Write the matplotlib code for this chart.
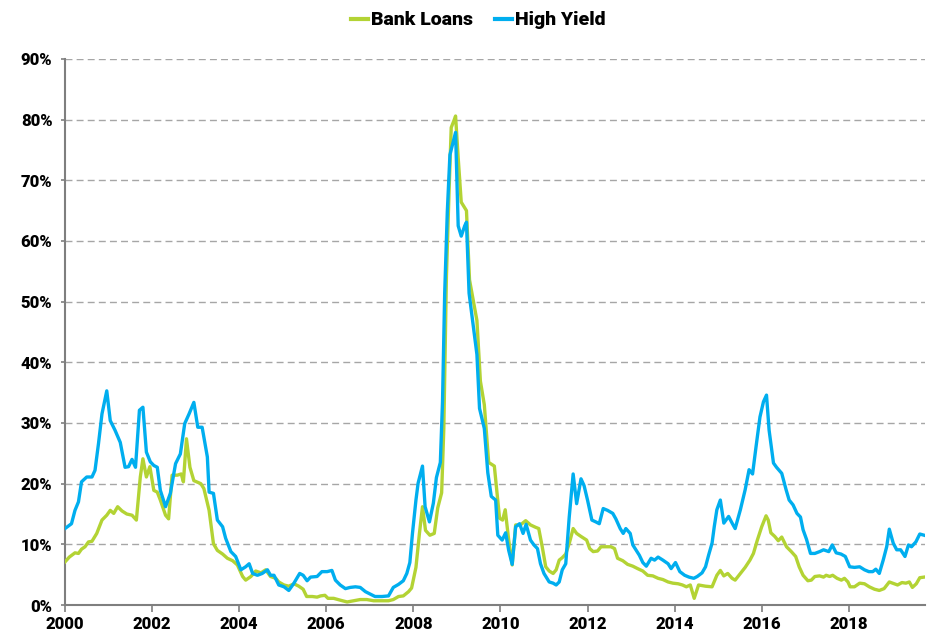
import matplotlib
matplotlib.use("Agg")
import matplotlib.pyplot as plt
from matplotlib import ticker

# Bank Loans (fractional years / percent)
bl_years = [2000.0, 2000.1, 2000.23, 2000.31, 2000.38, 2000.46, 2000.54, 2000.62, 2000.73, 2000.85,
            2000.96, 2001.04, 2001.12, 2001.21, 2001.31, 2001.42, 2001.54, 2001.64, 2001.73, 2001.79,
            2001.87, 2001.95, 2002.04, 2002.12, 2002.19, 2002.31, 2002.38, 2002.46, 2002.58, 2002.67,
            2002.72, 2002.79, 2002.87, 2002.96, 2003.12, 2003.19, 2003.31, 2003.41, 2003.5, 2003.62,
            2003.73, 2003.85, 2003.96, 2004.08, 2004.15, 2004.27, 2004.38, 2004.5, 2004.61, 2004.72,
            2004.84, 2004.91, 2005.03, 2005.14, 2005.26, 2005.37, 2005.47, 2005.55, 2005.68, 2005.79,
            2005.87, 2005.97, 2006.04, 2006.17, 2006.32, 2006.48, 2006.63, 2006.78, 2006.93, 2007.09,
            2007.24, 2007.43, 2007.54, 2007.66, 2007.77, 2007.89, 2007.96, 2008.06, 2008.14, 2008.21,
            2008.28, 2008.38, 2008.48, 2008.56, 2008.65, 2008.7, 2008.76, 2008.82, 2008.87, 2008.93,
            2008.97, 2009.03, 2009.1, 2009.22, 2009.29, 2009.46, 2009.54, 2009.63, 2009.73, 2009.86,
            2009.98, 2010.05, 2010.11, 2010.19, 2010.27, 2010.35, 2010.46, 2010.58, 2010.69, 2010.81,
            2010.88, 2010.96, 2011.04, 2011.12, 2011.21, 2011.28, 2011.35, 2011.42, 2011.5, 2011.59,
            2011.67, 2011.75, 2011.85, 2011.98, 2012.05, 2012.13, 2012.23, 2012.31, 2012.42, 2012.54,
            2012.62, 2012.69, 2012.81, 2012.92, 2013.04, 2013.15, 2013.27, 2013.38, 2013.5, 2013.62,
            2013.73, 2013.85, 2013.96, 2014.08, 2014.18, 2014.27, 2014.36, 2014.45, 2014.55, 2014.71,
            2014.86, 2014.97, 2015.05, 2015.13, 2015.22, 2015.32, 2015.39, 2015.51, 2015.62, 2015.73,
            2015.81, 2015.9, 2016.0, 2016.1, 2016.15, 2016.21, 2016.3, 2016.38, 2016.46, 2016.57,
            2016.68, 2016.78, 2016.86, 2016.95, 2017.06, 2017.14, 2017.22, 2017.33, 2017.42, 2017.48,
            2017.56, 2017.63, 2017.73, 2017.83, 2017.9, 2017.98, 2018.03, 2018.13, 2018.25, 2018.36,
            2018.47, 2018.59, 2018.7, 2018.81, 2018.93, 2019.04, 2019.12, 2019.22, 2019.31, 2019.39,
            2019.46, 2019.55, 2019.63, 2019.73]
bl_values = [7.1, 7.9, 8.6, 8.5, 9.2, 9.6, 10.4, 10.5, 11.8, 14.0,
             14.8, 15.6, 15.1, 16.2, 15.5, 15.0, 14.8, 14.0, 21.1, 24.1,
             21.1, 22.8, 18.9, 18.6, 17.3, 14.8, 14.2, 21.4, 21.4, 21.6,
             20.3, 27.4, 22.7, 20.5, 20.0, 19.2, 15.6, 10.1, 9.0, 8.4,
             7.7, 7.3, 6.6, 4.7, 4.1, 4.7, 5.6, 5.3, 5.8, 4.7,
             4.4, 3.8, 3.3, 3.1, 3.5, 3.1, 2.6, 1.4, 1.4, 1.3,
             1.5, 1.6, 1.1, 1.1, 0.8, 0.5, 0.7, 0.9, 0.9, 0.7,
             0.7, 0.7, 0.9, 1.4, 1.5, 2.2, 2.8, 6.2, 11.8, 16.2,
             12.3, 11.5, 11.8, 16.0, 18.5, 29.1, 54.2, 68.1, 78.7, 79.8,
             80.6, 73.7, 66.4, 65.0, 53.6, 46.9, 36.9, 33.0, 23.5, 22.9,
             14.3, 14.0, 15.7, 10.7, 6.6, 13.2, 13.2, 13.9, 13.2, 12.8,
             12.6, 9.6, 6.3, 5.6, 5.2, 5.8, 7.4, 7.8, 8.4, 10.4,
             12.6, 11.8, 11.3, 10.7, 9.3, 8.8, 8.9, 9.6, 9.6, 9.6,
             9.3, 7.7, 7.3, 6.7, 6.4, 6.0, 5.6, 4.9, 4.8, 4.4,
             4.2, 3.8, 3.6, 3.5, 3.3, 3.0, 3.3, 1.1, 3.3, 3.1,
             3.0, 4.9, 5.7, 4.8, 5.2, 4.4, 4.1, 5.2, 6.2, 7.4,
             8.5, 10.7, 12.9, 14.7, 14.0, 11.9, 11.3, 10.6, 11.2, 9.6,
             8.8, 8.0, 6.3, 4.9, 4.0, 4.1, 4.7, 4.8, 4.6, 4.9,
             4.7, 4.9, 4.4, 4.1, 4.4, 3.8, 3.0, 3.0, 3.6, 3.5,
             3.0, 2.6, 2.4, 2.7, 3.8, 3.5, 3.3, 3.7, 3.6, 3.8,
             2.9, 3.5, 4.5, 4.6]

# High Yield
hy_years = [2000.0, 2000.15, 2000.23, 2000.31, 2000.38, 2000.5, 2000.62, 2000.69, 2000.77, 2000.85,
            2000.96, 2001.04, 2001.15, 2001.27, 2001.38, 2001.46, 2001.54, 2001.62, 2001.71, 2001.79,
            2001.87, 2001.96, 2002.04, 2002.12, 2002.19, 2002.31, 2002.42, 2002.54, 2002.65, 2002.75,
            2002.85, 2002.96, 2003.05, 2003.15, 2003.27, 2003.31, 2003.41, 2003.5, 2003.62, 2003.69,
            2003.81, 2003.92, 2004.04, 2004.15, 2004.23, 2004.31, 2004.42, 2004.53, 2004.65, 2004.72,
            2004.8, 2004.91, 2005.03, 2005.14, 2005.25, 2005.39, 2005.47, 2005.56, 2005.64, 2005.79,
            2005.9, 2006.02, 2006.13, 2006.21, 2006.32, 2006.44, 2006.55, 2006.67, 2006.78, 2006.9,
            2007.01, 2007.12, 2007.28, 2007.43, 2007.54, 2007.66, 2007.77, 2007.85, 2007.92, 2007.98,
            2008.06, 2008.11, 2008.21, 2008.27, 2008.37, 2008.46, 2008.53, 2008.62, 2008.67, 2008.72,
            2008.78, 2008.84, 2008.91, 2008.97, 2009.03, 2009.1, 2009.18, 2009.22, 2009.28, 2009.41,
            2009.46, 2009.52, 2009.63, 2009.71, 2009.79, 2009.89, 2009.94, 2010.04, 2010.12, 2010.19,
            2010.27, 2010.35, 2010.44, 2010.52, 2010.59, 2010.69, 2010.77, 2010.85, 2010.92, 2011.0,
            2011.12, 2011.21, 2011.28, 2011.35, 2011.42, 2011.5, 2011.58, 2011.67, 2011.75, 2011.85,
            2011.92, 2012.0, 2012.1, 2012.19, 2012.27, 2012.36, 2012.46, 2012.58, 2012.65, 2012.75,
            2012.82, 2012.88, 2012.98, 2013.04, 2013.12, 2013.19, 2013.27, 2013.35, 2013.46, 2013.54,
            2013.62, 2013.73, 2013.85, 2013.92, 2014.02, 2014.12, 2014.23, 2014.33, 2014.44, 2014.52,
            2014.63, 2014.71, 2014.78, 2014.86, 2014.91, 2014.97, 2015.05, 2015.13, 2015.24, 2015.32,
            2015.39, 2015.51, 2015.62, 2015.71, 2015.79, 2015.87, 2015.96, 2016.04, 2016.11, 2016.17,
            2016.27, 2016.34, 2016.46, 2016.56, 2016.63, 2016.72, 2016.81, 2016.89, 2016.95, 2017.03,
            2017.12, 2017.22, 2017.33, 2017.42, 2017.54, 2017.62, 2017.71, 2017.82, 2017.92, 2018.02,
            2018.13, 2018.25, 2018.36, 2018.46, 2018.55, 2018.62, 2018.7, 2018.79, 2018.87, 2018.93,
            2019.02, 2019.1, 2019.19, 2019.29, 2019.37, 2019.44, 2019.54, 2019.63, 2019.73]
hy_values = [12.6, 13.4, 15.6, 17.0, 20.3, 21.1, 21.1, 22.2, 26.6, 31.5,
             35.3, 30.4, 28.8, 26.8, 22.7, 22.8, 24.0, 22.7, 32.1, 32.6,
             25.2, 23.6, 23.0, 22.7, 18.9, 16.2, 18.4, 23.3, 24.9, 29.9,
             31.5, 33.4, 29.3, 29.3, 24.4, 18.6, 18.4, 14.0, 12.9, 11.0,
             8.8, 8.0, 5.8, 6.3, 6.8, 5.2, 4.9, 5.2, 5.8, 4.9,
             4.9, 3.3, 3.0, 2.4, 3.5, 5.2, 4.9, 4.0, 4.6, 4.7,
             5.5, 5.5, 5.7, 4.1, 3.3, 2.7, 2.9, 3.0, 2.9, 2.2,
             1.8, 1.4, 1.4, 1.5, 2.9, 3.4, 4.0, 5.2, 7.0, 11.8,
             17.3, 20.1, 22.9, 16.2, 13.7, 16.8, 21.0, 23.5, 33.5, 51.4,
             64.8, 74.2, 76.2, 77.9, 62.5, 60.8, 62.5, 63.1, 51.4, 44.1,
             41.3, 32.4, 29.1, 21.8, 17.9, 17.3, 11.5, 10.7, 11.9, 9.0,
             6.7, 12.9, 13.4, 11.8, 13.3, 10.7, 9.9, 9.3, 6.8, 5.2,
             3.8, 3.6, 3.3, 3.8, 5.8, 6.8, 14.5, 21.6, 16.7, 20.8,
             19.7, 17.3, 14.0, 13.7, 13.4, 15.9, 15.6, 15.1, 14.2, 12.6,
             11.8, 12.6, 11.8, 9.9, 9.0, 8.2, 7.0, 6.4, 7.7, 7.4,
             7.9, 7.4, 6.8, 6.0, 7.0, 5.5, 4.9, 4.6, 4.4, 4.7,
             5.3, 6.3, 8.2, 10.2, 12.9, 15.7, 17.3, 13.5, 14.6, 13.5,
             12.6, 15.7, 19.0, 22.3, 21.6, 26.1, 31.0, 33.5, 34.6, 28.8,
             23.4, 22.7, 21.7, 19.0, 17.3, 16.5, 15.1, 14.5, 12.4, 10.8,
             8.5, 8.5, 8.8, 9.1, 8.8, 9.9, 8.6, 8.4, 8.0, 6.3,
             6.2, 6.3, 5.8, 5.5, 5.5, 5.9, 5.2, 7.4, 9.6, 12.5,
             10.2, 9.1, 9.1, 8.0, 9.9, 9.6, 10.4, 11.7, 11.5]

year_ticks = [2000, 2002, 2004, 2006, 2008, 2010, 2012, 2014, 2016, 2018]

GREEN = "#b3d334"
BLUE = "#00aeef"


def plot_default_rates():
    plt.rcParams["font.family"] = "Roboto"
    plt.rcParams["font.weight"] = "heavy"
    fig = plt.figure(figsize=(9.32, 6.39), dpi=100)
    ax = fig.add_axes([0.0697, 0.0532, 0.9228, 0.8545])

    ax.plot(bl_years, [v / 100 for v in bl_values], color=GREEN, lw=2.4,
            label="Bank Loans", solid_joinstyle="round", zorder=3)
    ax.plot(hy_years, [v / 100 for v in hy_values], color=BLUE, lw=2.4,
            label="High Yield", solid_joinstyle="round", zorder=4)

    ax.set_xlim(2000, 2019.75)
    ax.set_ylim(0, 0.9)
    ax.set_xticks(year_ticks)
    ax.set_xticklabels([str(y) for y in year_ticks])
    ax.yaxis.set_major_locator(ticker.MultipleLocator(0.1))
    ax.yaxis.set_major_formatter(ticker.PercentFormatter(1.0, decimals=0))

    ax.grid(axis="y", color="#a6a6a6", linestyle=(0, (5, 3)), lw=1)
    ax.set_axisbelow(True)
    for side in ["top", "right"]:
        ax.spines[side].set_visible(False)
    for side in ["left", "bottom"]:
        ax.spines[side].set_color("#7f7f7f")
        ax.spines[side].set_linewidth(1.5)
    ax.tick_params(axis="x", length=5, width=1.2, color="#7f7f7f", labelsize=12, pad=3)
    ax.tick_params(axis="y", length=3, width=1.2, color="#7f7f7f", labelsize=12, pad=6)
    for label in ax.get_xticklabels() + ax.get_yticklabels():
        label.set_fontweight("heavy")

    leg = fig.legend(loc="center", bbox_to_anchor=(0.513, 0.968), ncol=2, frameon=False,
                     handlelength=0.9, handletextpad=0.15, columnspacing=1.1,
                     prop={"weight": "heavy", "size": 14})
    for line in leg.get_lines():
        line.set_linewidth(3)

    fig.savefig("out.png", dpi=100)


if __name__ == "__main__":
    plot_default_rates()
